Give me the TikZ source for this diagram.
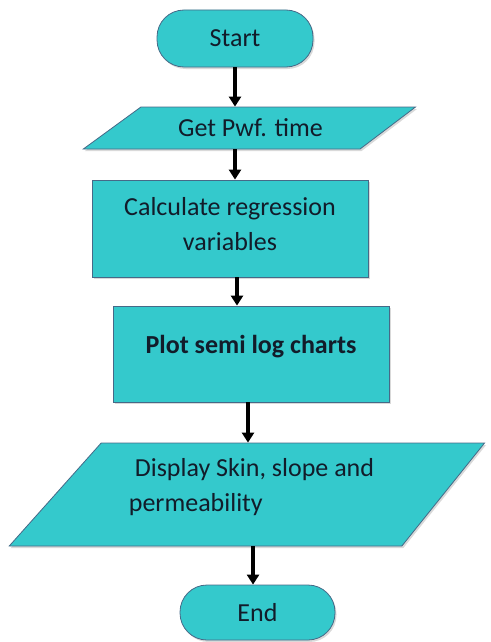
\documentclass[tikz,border=0pt]{standalone}
\usepackage{fontspec}
\setmainfont{Carlito}
\usepackage{xcolor}
\definecolor{fteal}{RGB}{52,201,204}
\definecolor{fline}{RGB}{70,105,135}
\definecolor{ftext}{RGB}{18,28,42}
\usetikzlibrary{shapes.geometric,shadows,arrows.meta,calc}
\tikzset{
  blk/.style={draw=fline,line width=0.8pt,fill=fteal,text=ftext,
    font=\fontsize{26}{35}\selectfont,
    drop shadow={opacity=0.3,shadow xshift=1.5pt,shadow yshift=-2pt}},
  term/.style={blk,rectangle,rounded corners=27pt},
  proc/.style={blk,rectangle},
  io/.style={blk,trapezium,trapezium stretches=true},
  arr/.style={line width=3.6pt,-{Triangle[width=12pt,length=10pt]}},
}

\begin{document}
\begin{tikzpicture}[x=1pt,y=-1pt]
\useasboundingbox (0,0) rectangle (490,642);
\node[term,minimum width=156pt,minimum height=57pt] (t1) at (235,38.5) {Start};
\node[io,minimum width=333pt,minimum height=42pt,trapezium left angle=32,trapezium right angle=147] (io1) at (250.5,128) {Get Pwf. time};
\node[proc,minimum width=276pt,minimum height=97pt,align=center,text depth=10pt] (p1) at (230,228.5) {Calculate regression\\variables};
\node[proc,minimum width=276pt,minimum height=96pt,text depth=20pt,font=\fontsize{26}{35}\selectfont\bfseries] (p2) at (251,354) {Plot semi log charts};
\node[io,minimum width=477pt,minimum height=103pt,trapezium left angle=46,trapezium right angle=131,align=left,text depth=20pt] (io2) at (251.5,494.5) {\hspace{6pt}Display Skin, slope and\\permeability};
\node[term,minimum width=155pt,minimum height=55pt] (t2) at (257.5,612.5) {End};
% flow arrows
\draw[arr] (t1.south) -- (t1.south |- io1.north);
\draw[arr] (t1.south |- io1.south) -- (t1.south |- p1.north);
\draw[arr] ([xshift=7pt]p1.south) -- ([xshift=7pt]p1.south |- p2.north);
\draw[arr] ([xshift=-3pt]p2.south) -- ([xshift=-3pt]p2.south |- io2.north);
\draw[arr] ([xshift=1.5pt]io2.south) -- ([xshift=1.5pt]io2.south |- t2.north);
\end{tikzpicture}
\end{document}
